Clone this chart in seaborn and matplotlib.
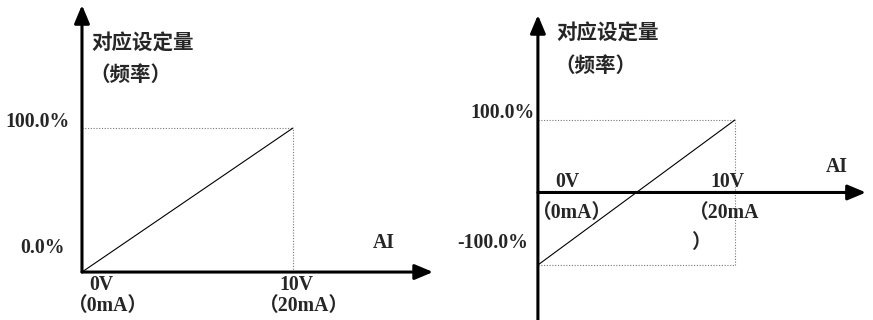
"""Two AI input curves: 0..100% and -100..100% against 0..10V (0..20mA)."""

import pandas as pd
import matplotlib
matplotlib.use("Agg")
import matplotlib.pyplot as plt
import seaborn as sns

# data
ai_volts = [0, 10]
unipolar_pct = [0, 100]
bipolar_pct = [-100, 100]
y_title = "对应设定量"
y_subtitle = "（频率）"
left_ytick_labels = ["100.0%", "0.0%"]
right_ytick_labels = ["100.0%", "-100.0%"]

sns.set_theme(style="white")
plt.rcParams['font.family'] = ['Liberation Serif', 'Noto Sans CJK SC']
plt.rcParams['font.weight'] = 'bold'

W, H = 873, 320
fig = plt.figure(figsize=(W / 100, H / 100), dpi=100)
fig.patch.set_facecolor('white')

ax_l = fig.add_axes([0, 0, 440 / W, 1])
ax_r = fig.add_axes([440 / W, 0, 433 / W, 1])
for ax in (ax_l, ax_r):
    ax.axis('off')
    ax.patch.set_alpha(0)

# limits chosen so both panels sit like the reference
ax_l.set_xlim(-3.886, 16.97)
ax_l.set_ylim(-33.3, 188.9)
ax_r.set_xlim(-4.97, 17.01)
ax_r.set_ylim(-175.9, 265.5)

arrow = dict(arrowstyle="-|>,head_length=1.0,head_width=0.42",
             mutation_scale=11, color='black', lw=2.2,
             shrinkA=0, shrinkB=0)
dot = dict(color='#777777', lw=0.8, linestyle=(0, (1, 1.5)))
cjk = dict(fontsize=14.8, fontweight='bold')
lat = dict(fontsize=14.2, fontweight='bold')


def axes_arrows(ax, y0, ytop, xtip):
    ax.annotate("", xy=(0, ytop), xytext=(0, y0), arrowprops=arrow)
    ax.annotate("", xy=(xtip, 0), xytext=(0, 0), arrowprops=arrow)


# left panel
df_l = pd.DataFrame({"AI": ai_volts, "pct": unipolar_pct})
ax_l.plot([0, ai_volts[1]], [unipolar_pct[1]] * 2, **dot)
ax_l.plot([ai_volts[1]] * 2, [0, unipolar_pct[1]], **dot)
sns.lineplot(data=df_l, x="AI", y="pct", ax=ax_l, color='black', lw=0.8)
axes_arrows(ax_l, 0, 185.4, 16.64)

ax_l.text(0.42, 157.6, y_title, ha='left', va='center', **cjk)
ax_l.text(0.35, 136.1, y_subtitle, ha='left', va='center', **cjk)
ax_l.text(-0.57, 104.2, left_ytick_labels[0], ha='right', va='center', **lat)
ax_l.text(-0.8, 16.7, left_ytick_labels[1], ha='right', va='center', **lat)
ax_l.text(13.8, 20.1, "AI", ha='left', va='center', **lat)
ax_l.text(0.33, -9.0, "0V", ha='left', va='center', **lat)
ax_l.text(-0.65, -23.6, "（0mA）", ha='left', va='center', **lat)
ax_l.text(9.35, -9.0, "10V", ha='left', va='center', **lat)
ax_l.text(8.38, -23.6, "（20mA）", ha='left', va='center', **lat)

# right panel
df_r = pd.DataFrame({"AI": ai_volts, "pct": bipolar_pct})
ax_r.plot([0, ai_volts[1]], [bipolar_pct[1]] * 2, **dot)
ax_r.plot([0, ai_volts[1]], [bipolar_pct[0]] * 2, **dot)
ax_r.plot([ai_volts[1]] * 2, bipolar_pct, **dot)
sns.lineplot(data=df_r, x="AI", y="pct", ax=ax_r, color='black', lw=0.8)
axes_arrows(ax_r, -176, 244.8, 16.65)

ax_r.text(0.93, 217.2, y_title, ha='left', va='center', **cjk)
ax_r.text(0.82, 173.1, y_subtitle, ha='left', va='center', **cjk)
ax_r.text(-0.15, 109.7, right_ytick_labels[0], ha='right', va='center', **lat)
ax_r.text(-0.5, -69.7, right_ytick_labels[1], ha='right', va='center', **lat)
ax_r.text(14.6, 35.2, "AI", ha='left', va='center', **lat)
ax_r.text(0.86, 14.5, "0V", ha='left', va='center', **lat)
ax_r.text(-0.3, -28.3, "（0mA）", ha='left', va='center', **lat)
ax_r.text(8.75, 14.5, "10V", ha='left', va='center', **lat)
ax_r.text(7.65, -28.3, "（20mA", ha='left', va='center', **lat)
ax_r.text(7.77, -69.7, "）", ha='left', va='center', **lat)

fig.savefig("out.png", dpi=100, facecolor='white')
